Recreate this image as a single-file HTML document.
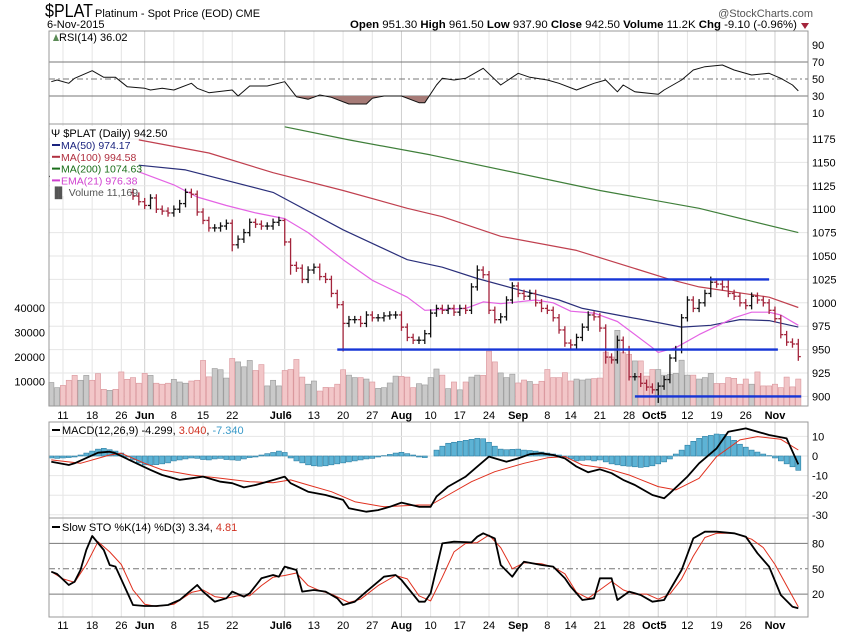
<!DOCTYPE html>
<html><head><meta charset="utf-8"><style>
html,body{margin:0;padding:0;background:#fff;}
svg{display:block;font-family:"Liberation Sans",sans-serif;}
</style></head><body>
<svg id="chart" width="850" height="633" viewBox="0 0 850 633" xmlns="http://www.w3.org/2000/svg">
<text x="45" y="17" font-size="18" fill="#000" textLength="48" lengthAdjust="spacingAndGlyphs">$PLAT</text>
<text x="95" y="17" font-size="11" fill="#000">Platinum  - Spot Price (EOD) CME</text>
<text x="47" y="28" font-size="11" fill="#000">6-Nov-2015</text>
<text x="813" y="17" font-size="11" fill="#555" text-anchor="end">@StockCharts.com</text>
<text x="350" y="28" font-size="11" fill="#000" textLength="447" lengthAdjust="spacingAndGlyphs"><tspan font-weight="bold">Open</tspan> 951.30 <tspan font-weight="bold">High</tspan> 961.50 <tspan font-weight="bold">Low</tspan> 937.90 <tspan font-weight="bold">Close</tspan> 942.50 <tspan font-weight="bold">Volume</tspan> 11.2K <tspan font-weight="bold">Chg</tspan> -9.10 (-0.96%)</text>
<path d="M801 23 L809 23 L805 29 Z" fill="#a3243b"/>
<g id="layers"></g>
</svg>
<script>
// ---- data ----
const closes=[1135,1140,1136,1130,1127,1134,1138,1130,1125,1122,1128,1124,
1120,1118,1114,1108,1104,1112,1100,1098,1096,1100,1106,1118,1116,1097,
1088,1080,1080,1082,1085,1062,1068,1075,1086,1084,1082,1082,1086,1088,
1065,1040,1037,1025,1035,1038,1028,1025,1010,998,978,982,982,978,987,
984,984,986,987,987,974,963,960,960,967,989,994,992,994,990,
994,992,1017,1035,1030,992,982,985,1003,1018,1010,1007,1010,1000,994,
992,984,971,957,955,963,974,987,985,973,942,939,960,950,921,
921,914,910,907,911,918,941,950,984,1003,994,1000,1010,1022,1020,
1017,1010,1007,1000,997,1007,1003,1000,992,983,966,958,956,942.5];
const volumes=[9.6,7.5,8.4,10.5,12.5,10.5,12.5,10.5,13.2,6.8,6.4,6.8,13.9,10.9,11.6,9.3,13.3,12.5,9.3,8.9,9.3,10.9,9.8,9.3,10.2,10.5,18.6,11.9,15.3,14.8,11.4,19.4,18.0,16.0,18.6,14.5,16.9,8.2,10.5,8.2,14.5,14.9,19.0,
11.8,8.9,10.2,6.1,7.6,7.5,8.9,14.8,12.6,11.6,11.6,11.0,9.8,7.2,7.5,9.4,12.2,12.1,11.8,7.5,9.1,8.6,11.6,15.1,12.6,7.1,9.8,6.6,9.8,11.8,12.6,12.5,22.4,18.0,13.5,11.6,13.0,9.4,10.6,10.0,8.9,10.1,
14.9,11.6,11.6,13.6,10.2,11.0,10.6,11.0,11.2,11.4,22.0,20.0,30.9,21.8,21.1,18.4,18.4,12.2,14.9,14.9,12.6,12.9,13.3,18.7,12.6,12.6,11.0,11.6,13.3,9.2,9.2,11.6,11.3,8.9,11.0,8.9,13.9,8.2,8.2,8.9,7.5,11.8,7.8,11.0];
const lowOverride={50:948,104:893,95:935,128:938,41:1030,31:1055};
const highOverride={73:1040,113:1028,116:1026,97:965,128:961.5,40:1090};
const ma50Idx=[15,23,38,50,61,67,73,80,87,91,97,103,108,113,118,123,128];
const ma50Val=[1147,1142,1118,1078,1046,1038,1026,1014,1003,994,987,980,974,976,982,981,974];
const ma100Idx=[15,27,38,50,61,67,77,90,106,111,123,128];
const ma100Val=[1174,1160,1139,1120,1101,1092,1071,1056,1025,1017,1006,995];
const ma200Idx=[40,51,65,94,111,128];
const ma200Val=[1188,1174,1158,1120,1101,1075];
const emaIdx=[15,21,25,30,35,40,44,50,55,61,64,71,74,77,83,86,89,93,97,103,104,107,111,117,120,123,125,128];
const emaVal=[1140,1126,1113,1104,1096,1090,1075,1046,1024,1006,992,994,1001,999,1003,1000,991,989,980,952,947,952,966,984,990,990,987,976];
const rsiIdx=[0,1,3,4,7,9,11,13,16,17,19,21,24,25,27,31,32,34,37,40,42,44,46,48,51,54,55,57,60,63,64,66,67,69,71,74,77,80,82,85,87,90,93,95,97,98,100,104,105,108,110,112,115,117,120,123,125,127,128];
const rsiVal=[46.8,48.8,44.9,50.8,59.8,52,52,40.9,39,37,39,37,44.9,39,33.9,37,30,41.8,41.8,46.8,29.2,26.1,31.2,28.5,20.6,20.6,27.3,30,30,22.1,22.1,42.9,50.8,48.8,50.8,62.6,42.9,56.7,52,48.8,44.9,37,44.9,48.8,35,42.9,35,32,37,48.8,60.6,64.5,66.5,60.6,54.7,56.7,50.8,42.9,36];
const macdIdx=[0,3,4,8,10,11,14,17,19,22,24,26,29,31,33,35,37,40,41,44,47,50,51,54,56,58,60,63,65,66,68,71,73,75,78,80,82,84,86,88,90,92,94,96,98,100,103,105,106,109,111,114,116,119,121,123,126,128];
const macdVal=[-2.9,-4.6,-3.7,1.7,2.2,1.4,-2.9,-7.1,-9.7,-12.2,-11.4,-10.5,-13.1,-13.9,-16,-14.8,-13.1,-10.5,-13.9,-18.2,-19.9,-22.4,-26.7,-28.4,-27.6,-25.9,-23.8,-25.9,-25.9,-20.7,-15.6,-10.5,-5.4,-0.3,-2.9,-1.2,0.9,1.4,0.5,-1.2,-5.4,-8.3,-6.8,-8.8,-12.2,-14.8,-19.9,-21.6,-19,-10.5,-3.7,3.9,12.4,14.1,12.4,10.7,9,-4.3];
const sigIdx=[0,5,10,12,16,19,24,29,34,38,41,44,48,52,57,63,65,68,72,76,81,85,88,91,95,99,104,107,111,114,118,121,125,128];
const sigVal=[-2,-3.7,0.5,1.4,-3.7,-7.1,-9.7,-11.4,-13.1,-13.6,-12.2,-14.8,-18.2,-23.3,-25.9,-25,-25,-19.9,-13.1,-8,-3.7,-0.9,-0.3,-4.6,-6.3,-9.7,-15.6,-17.3,-11.4,-0.3,8.2,9.9,8.5,3.04];
const histVal=[-1,-1.2,-1,-0.8,-0.5,0.5,1.5,2.5,3.5,3.9,3.2,2.5,1.5,
-0.5,-2,-3.5,-4.5,-4.6,-4.4,-4,-3.5,
-2.5,-2,-1.5,-1,-1.2,-1.8,-2,-1.5,-1.2,-1.8,-2,-2.2,-1.5,-0.8,-0.5,0.5,
1.2,1.8,2.5,1.8,-1,-2.5,-3.5,-4.5,-5,-5.2,-5,-4.5,-4,
-3.5,-3,-2.5,-2,-1.5,-1.2,-0.5,0.2,0.8,1.5,1.9,1.2,0.5,-0.5,-0.8,0,
3,5,6.5,7,7.5,8,8.5,9,8.8,7,5,3.5,3.2,3.4,3.5,3,2.8,2.5,2,1.5,1,
0.5,-0.2,-1.5,-2.5,-2.2,-2,-2.5,-2,-3,-4,-4.5,-5,-5.2,-5.5,-5.8,-5.5,-5,-4,-3,-1.5,
1,3,5.5,7.5,9,10,10.5,11.2,11,10,8,6,4.5,3,2,1,0.2,-1,-2.5,-4,-5.5,-7.3];
const stoKIdx=[0,1,3,4,5,6,7,9,10,11,14,16,18,20,22,25,26,28,30,31,33,34,36,38,39,40,42,43,45,47,49,50,52,54,57,59,60,63,64,65,67,69,72,73,74,76,77,79,80,81,84,86,88,89,91,93,94,96,97,99,101,103,105,108,110,112,114,117,119,121,123,125,127,128];
const stoKVal=[46.5,43.8,30.8,34.7,48.5,72.2,88.8,72.2,54.4,52.5,7.1,5.9,5.9,7.1,13,30.8,22.9,11,15,22.9,16.9,20.9,38.7,42.6,40.6,52.5,48.5,22.9,24.9,22.9,15,7.1,11,22.9,40.6,42.6,36.7,11,11,20.9,80,82,81.2,87.9,91.9,85.9,54.4,40.6,50.5,58.3,54.4,52.5,38.7,28.8,13,15,38.7,38.7,13,22.9,18.9,11,13,48.5,85.9,93.9,93.9,91.9,87.9,68.3,52.5,18.9,5.1,3.34];
const stoDIdx=[0,2,4,6,8,10,12,14,16,18,21,24,26,28,30,32,34,36,38,40,42,44,46,48,51,53,56,59,61,63,65,67,69,71,73,75,77,79,81,84,86,88,90,92,94,96,98,100,102,104,106,108,110,112,114,117,120,122,124,126,128];
const stoDVal=[46.5,38,34,55,82,70,55,25,8,5.5,8,22,25,17,15,18,18,30,40,42,45,30,24,20,10,14,30,42,38,18,12,40,70,80,81,90,75,50,57,56,52,44,22,15,25,35,25,20,20,14,20,38,65,87,92,92,85,75,55,30,4.81];
const dateLabels=["11","18","26","Jun","8","15","22","Jul6","13","20","27","Aug","10","17","24","Sep","8","14","21","28","Oct5","12","19","26","Nov"];
const dateIdx=[2,7,12,16,21,26,31,40,45,50,55,60,65,70,75,80,85,89,94,99,104,109,114,119,124];
const priceTicks=[1175,1150,1125,1100,1075,1050,1025,1000,975,950,925,900];
const volTicks=[40000,30000,20000,10000];
const rsiTicks=[90,70,50,30,10];
const macdTicks=[10,0,-10,-20,-30];
const stoTicks=[80,50,20];
const supportLevels=[1025,950,900];
const supportStart=[78.5,49,100];
const supportEnd=[123,124.5,128.5];

// ---- geometry ----
const L=49,R=808;
const X=i=>51.3+i*5.836;
const yPrice=p=>396.4-(p-900)*0.936;
const yVol=v=>406-v*2.45;
const yRsi=v=>121.5-v*0.85;
const yMacd=v=>456-v*1.96;
const ySto=v=>611-v*0.845;
const NS="http://www.w3.org/2000/svg";
const root=document.getElementById('layers');
function mk(tag,attrs,parent){const e=document.createElementNS(NS,tag);for(const k in attrs)e.setAttribute(k,attrs[k]);(parent||root).appendChild(e);return e;}
function pts(idx,val,fy){return idx.map((ix,k)=>X(ix).toFixed(1)+','+fy(val[k]).toFixed(1)).join(' ');}

const panels=[[31,124],[124,406],[422,518],[518,617]];
// grids
panels.forEach((p,n)=>{
  const g=mk('g',{});
  
  
  dateIdx.forEach((ix,k)=>{
    const l=mk('line',{x1:X(ix),x2:X(ix),y1:p[0],y2:p[1],stroke:(/[A-Za-z]/.test(dateLabels[k])?'#cfcfcf':'#e4e4e4'),'stroke-width':1},g);
    
    
  });
});
function hgrid(vals,fy,color,dash,name){vals.forEach(v=>{const l=mk('line',{x1:L,x2:R,y1:fy(v),y2:fy(v),stroke:color,'stroke-width':1});if(dash)l.setAttribute('stroke-dasharray',dash);

});}
hgrid([1175,1150,1125,1100,1075,1050,1025,1000,975,950,925,900],yPrice,'#e6e6e6',null,'price-gridline');
hgrid([-30,-20,-10,0,10],yMacd,'#e6e6e6',null,'macd-gridline');
hgrid([30,70],yRsi,'#777',null,'rsi-level');
hgrid([50],yRsi,'#777','6,3,2,3','rsi-mid');
hgrid([20,80],ySto,'#777',null,'sto-level');
hgrid([50],ySto,'#777','6,3,2,3','sto-mid');

// volume bars
volumes.forEach((v,i)=>{
  const down=i>0&&closes[i]<closes[i-1];
  const r=mk('rect',{x:X(i)-2.6,y:yVol(v),width:5.2,height:406-yVol(v),fill:down?'#f2c6c8':'#c9c9c9',stroke:down?'#d9959b':'#9a9a9a','stroke-width':0.6});
  
  
});

// MAs
function line(idx,val,fy,color,w,name){const p=mk('polyline',{points:pts(idx,val,fy),fill:'none',stroke:color,'stroke-width':w,'stroke-linejoin':'round'});

return p;}
line(ma200Idx,ma200Val,yPrice,'#3f7f3a',1.2,'ma200-line');
line(ma100Idx,ma100Val,yPrice,'#c0404f',1.2,'ma100-line');
line(ma50Idx,ma50Val,yPrice,'#2a2f7a',1.2,'ma50-line');
line(emaIdx,emaVal,yPrice,'#e463e4',1.2,'ema21-line');

// OHLC bars
closes.forEach((c,i)=>{
  const o=i>0?closes[i-1]:c;
  const down=i>0&&c<o;
  const hi=highOverride[i]!==undefined?highOverride[i]:Math.max(o,c)+4;
  const lo=lowOverride[i]!==undefined?lowOverride[i]:Math.min(o,c)-4;
  const col=down?'#a3243b':'#111';
  const g=mk('g',{stroke:col,'stroke-width':1.3});
  
  
  const x=X(i);
  mk('line',{x1:x,x2:x,y1:yPrice(hi),y2:yPrice(lo)},g);
  mk('line',{x1:x-2.5,x2:x,y1:yPrice(o),y2:yPrice(o)},g);
  mk('line',{x1:x,x2:x+2.5,y1:yPrice(c),y2:yPrice(c)},g);
});

// support/resistance lines
supportLevels.forEach((lv,k)=>{
  const l=mk('line',{x1:X(supportStart[k]),x2:X(supportEnd[k]),y1:yPrice(lv),y2:yPrice(lv),stroke:'#1736d6','stroke-width':2.4});
  
  
});

// RSI
const clip=mk('clipPath',{id:'rsiLow'});
mk('rect',{x:L,y:yRsi(30),width:R-L,height:40},clip);
const area=mk('polygon',{points:X(rsiIdx[0])+','+yRsi(30)+' '+pts(rsiIdx,rsiVal,yRsi)+' '+X(rsiIdx[rsiIdx.length-1])+','+yRsi(30),fill:'#a67b77',stroke:'none','clip-path':'url(#rsiLow)'});


line(rsiIdx,rsiVal,yRsi,'#111',1,'rsi-line');

// MACD
histVal.forEach((v,i)=>{
  const y0=yMacd(0),y1=yMacd(v);
  const r=mk('rect',{x:X(i)-2.5,y:Math.min(y0,y1),width:5,height:Math.abs(y1-y0),fill:'#5db3d5',stroke:'#2b7ea3','stroke-width':0.6});
  
  
});
line(sigIdx,sigVal,yMacd,'#e0301e',1,'macd-signal-line');
line(macdIdx,macdVal,yMacd,'#000',1.8,'macd-line');

// STO
line(stoDIdx,stoDVal,ySto,'#e0301e',1,'sto-d-line');
line(stoKIdx,stoKVal,ySto,'#000',1.8,'sto-k-line');

// panel borders
panels.forEach((p,n)=>{const r=mk('rect',{x:L,y:p[0],width:R-L,height:p[1]-p[0],fill:'none',stroke:'#999','stroke-width':1});

});

// price legend background
const lb=mk('rect',{x:50,y:126,width:80,height:70,fill:'#fff'});



function txt(s,x,y,opt,name){const t=mk('text',Object.assign({x:x,y:y,'font-size':11,fill:'#000'},opt||{}));t.textContent=s;

return t;}
// axis labels
priceTicks.forEach(v=>txt(String(v),812,yPrice(v)+4,{},'price-tick-label'));
volTicks.forEach(v=>txt(String(v),45,yVol(v/1000)+4,{'text-anchor':'end'},'volume-tick-label'));
rsiTicks.forEach(v=>txt(String(v),812,yRsi(v)+4,{},'rsi-tick-label'));
macdTicks.forEach(v=>txt(String(v),812,yMacd(v)+4,{},'macd-tick-label'));
stoTicks.forEach(v=>txt(String(v),812,ySto(v)+4,{},'sto-tick-label'));
dateLabels.forEach((s,k)=>{
  const bold=/[A-Za-z]/.test(s);
  const o={'text-anchor':'middle'};if(bold)o['font-weight']='bold';
  txt(s,X(dateIdx[k])-(s.length>3?4:0),419,o,'date-label-top');
  txt(s,X(dateIdx[k])-(s.length>3?4:0),629,Object.assign({},o),'date-label-bottom');
});

// legends
const rsiIcon=mk('path',{d:'M53 41 L56 34 L59 41 Z',fill:'#5a8a55'});


txt('RSI(14) 36.02',59,41,{},'rsi-legend');
txt('\u03A8 $PLAT (Daily) 942.50',51,137,{},'price-legend');
const leg=[['MA(50) 974.17','#1a237e'],['MA(100) 994.58','#b03040'],['MA(200) 1074.63','#1a6e1a'],['EMA(21) 976.38','#d040d0']];
leg.forEach((e,k)=>{const y=149+k*11.8;
const sw=mk('line',{x1:52,x2:60,y1:y-4,y2:y-4,stroke:e[1],'stroke-width':2});


txt(e[0],61,y,{fill:e[1],'font-size':10.5},'legend-entry');});
txt('\u2590\u258C Volume 11,169',51,196,{fill:'#555','font-size':10.5},'legend-volume');
const ms=mk('line',{x1:52,x2:60,y1:430,y2:430,stroke:'#000','stroke-width':2});


const mt=txt('',62,434,{},'macd-legend');
mt.innerHTML='MACD(12,26,9) -4.299, <tspan fill="#d03020">3.040</tspan>, <tspan fill="#3a9ac8">-7.340</tspan>';
const ss=mk('line',{x1:52,x2:60,y1:527,y2:527,stroke:'#000','stroke-width':2});


const st=txt('',62,531,{},'sto-legend');
st.innerHTML='Slow STO %K(14) %D(3) 3.34, <tspan fill="#d03020">4.81</tspan>';
</script>
</body></html>
